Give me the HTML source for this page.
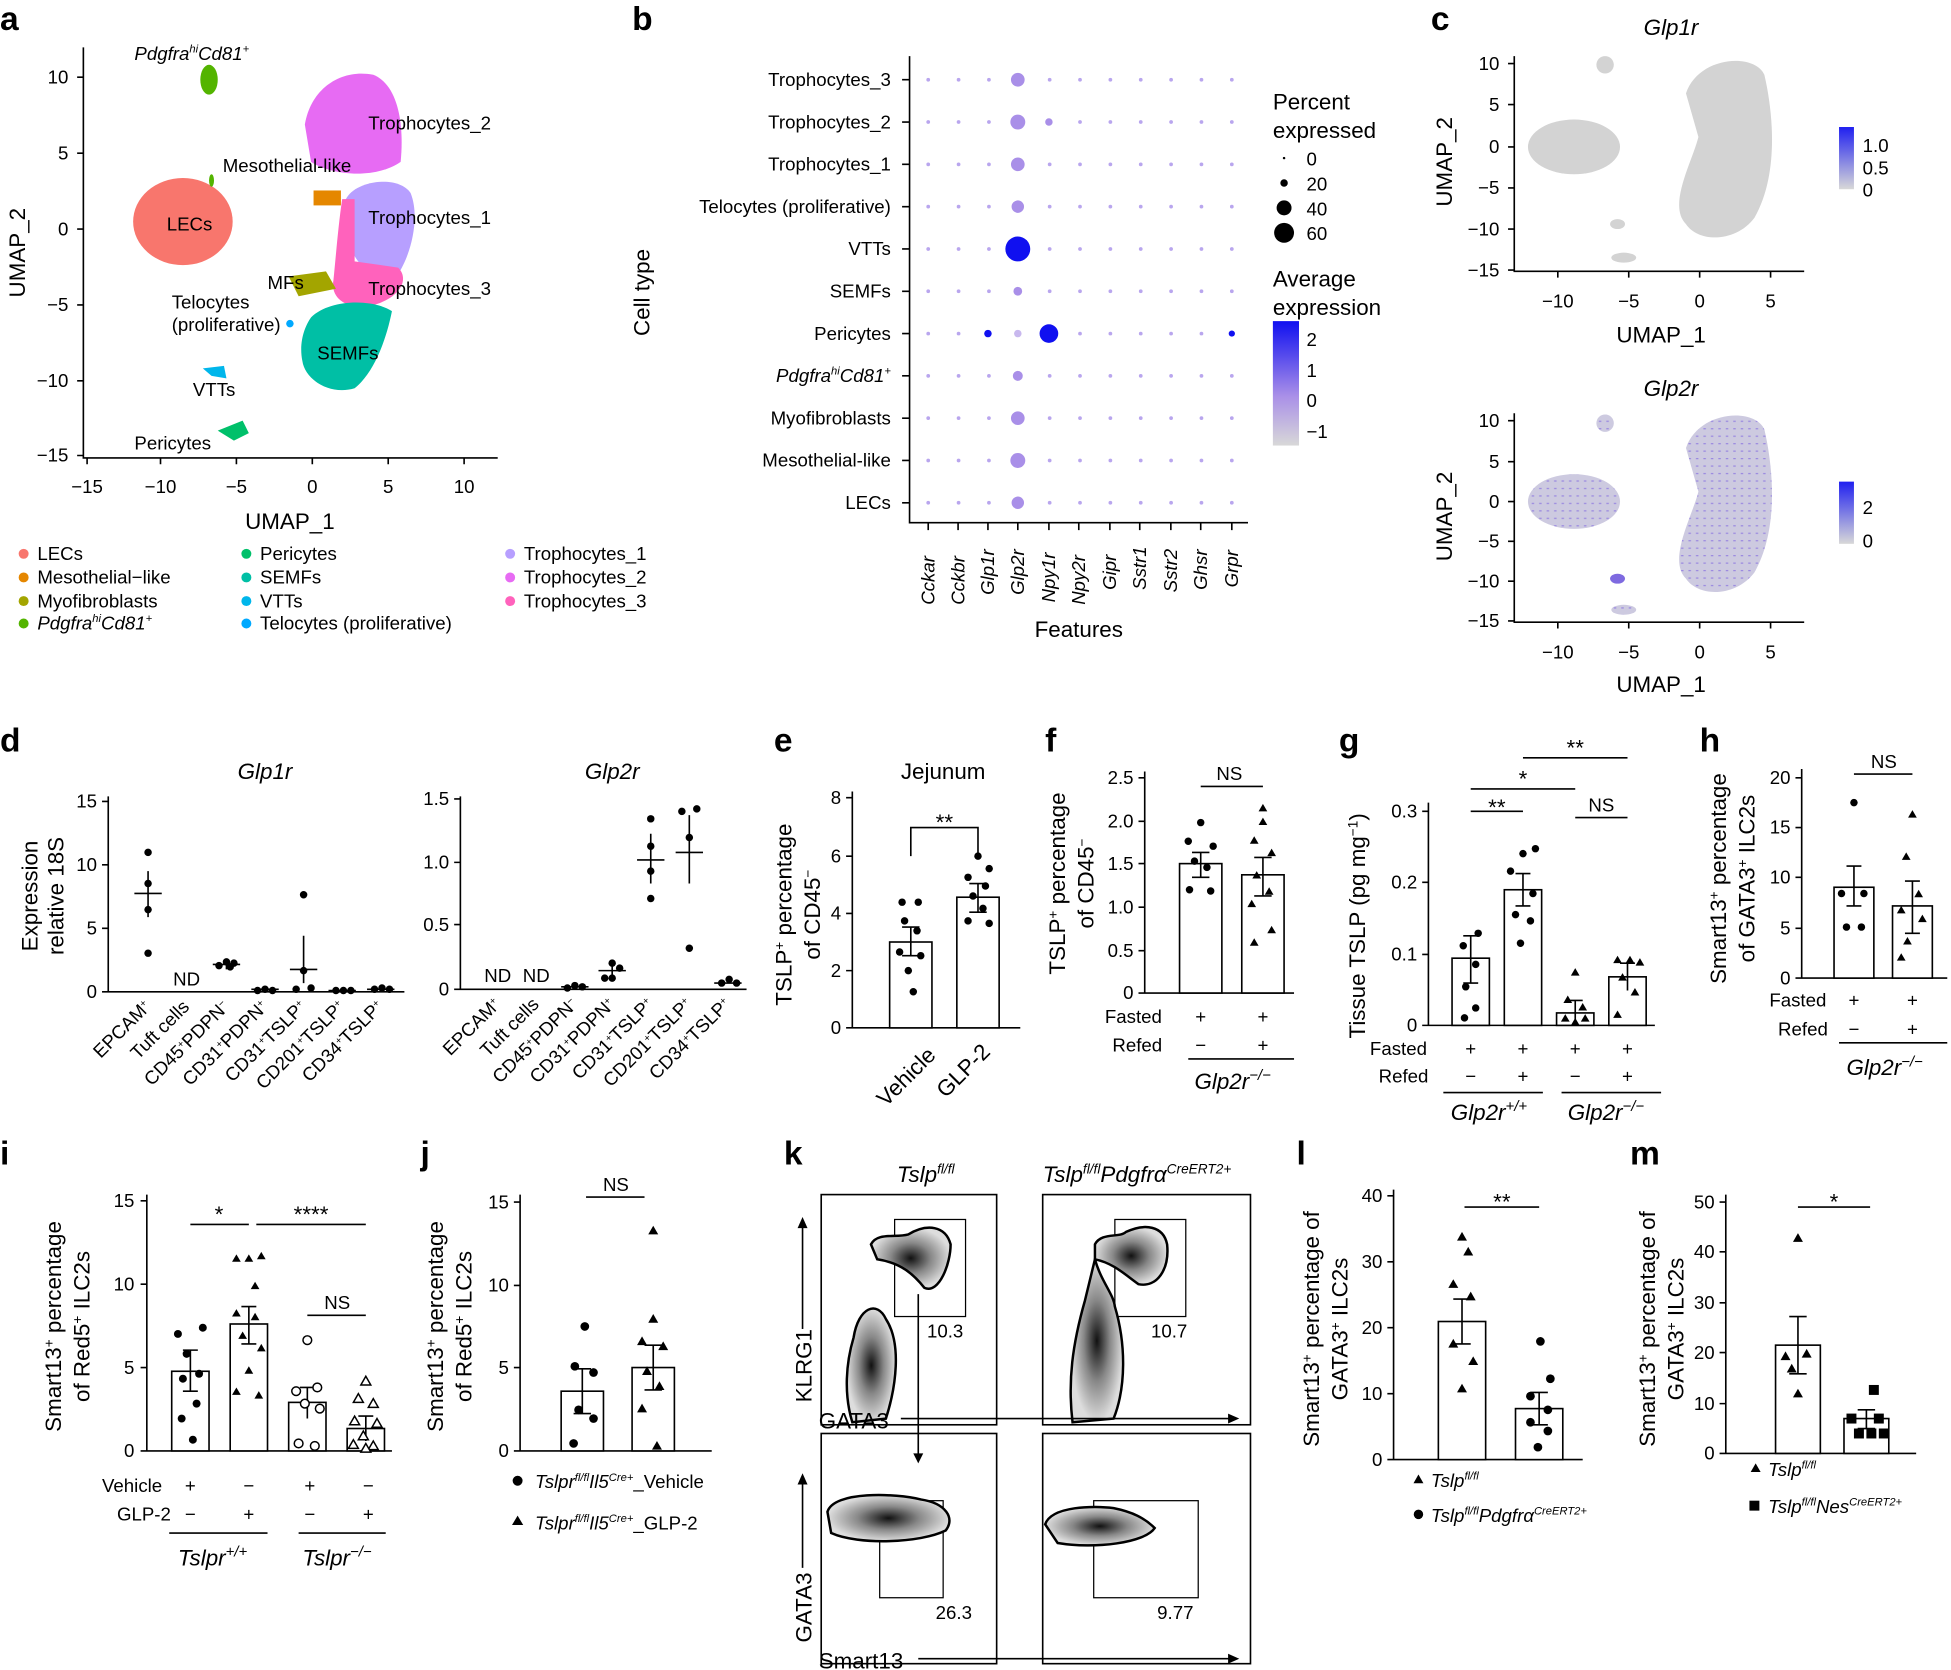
<!DOCTYPE html>
<html><head><meta charset="utf-8"><style>
html,body{margin:0;padding:0;background:#fff;}
svg{display:block;}
text{font-family:"Liberation Sans",sans-serif;fill:#000;}
.t{font-size:15px;}
.ax{font-size:18px;}
.L{font-size:27px;font-weight:bold;}
.i{font-style:italic;}
.k{stroke:#000;stroke-width:1.3;fill:none;}
.bar{stroke:#000;stroke-width:1.3;fill:#fff;}
</style></head><body>
<svg width="1951" height="1670" viewBox="0 0 1568 1342" xmlns="http://www.w3.org/2000/svg">
<text class="L" x="0" y="24">a</text>
<text class="L" x="508" y="24">b</text>
<text class="L" x="1150" y="24">c</text>
<text class="L" x="0" y="604">d</text>
<text class="L" x="622" y="604">e</text>
<text class="L" x="840" y="604">f</text>
<text class="L" x="1076" y="604">g</text>
<text class="L" x="1366" y="604">h</text>
<text class="L" x="0" y="936">i</text>
<text class="L" x="338" y="936">j</text>
<text class="L" x="630" y="936">k</text>
<text class="L" x="1042" y="936">l</text>
<text class="L" x="1310" y="936">m</text>

<!-- ===== Panel a ===== -->
<g>
<path class="k" d="M67 38V368H400"/>
<g class="k"><path d="M62 62H67M62 123H67M62 184H67M62 245H67M62 306H67M62 366H67M70 368V373M129 368V373M190 368V373M251 368V373M312 368V373M373 368V373"/></g>
<g class="t" text-anchor="end"><text x="55" y="67">10</text><text x="55" y="128">5</text><text x="55" y="189">0</text><text x="55" y="250">−5</text><text x="55" y="311">−10</text><text x="55" y="371">−15</text></g>
<g class="t" text-anchor="middle"><text x="70" y="396">−15</text><text x="129" y="396">−10</text><text x="190" y="396">−5</text><text x="251" y="396">0</text><text x="312" y="396">5</text><text x="373" y="396">10</text></g>
<text class="ax" x="233" y="425" text-anchor="middle">UMAP_1</text>
<text class="ax" transform="translate(20,203) rotate(-90)" text-anchor="middle">UMAP_2</text>
<ellipse cx="147" cy="178" rx="40" ry="35" fill="#F8766D"/>
<path d="M245 100 C250 70,275 55,300 60 C320 68,325 100,322 130 C300 145,265 140,250 130 Z" fill="#E76BF3"/>
<rect x="252" y="153" width="22" height="12" fill="#E58700"/>
<path d="M278 160 C285 145,320 140,330 155 C338 175,330 205,320 220 C300 230,285 210,280 195 Z" fill="#B79FFF"/>
<path d="M275 160 L285 160 L285 210 L320 215 C330 225,320 240,300 245 C280 250,265 240,268 225 C270 205,272 180,275 160 Z" fill="#FF62BC"/>
<path d="M250 255 C265 240,300 240,315 250 C310 275,300 300,285 312 C265 318,245 305,243 290 C240 275,245 262,250 255 Z" fill="#00BFA5"/>
<path d="M232 222 L262 218 L270 232 L240 238 Z" fill="#A3A500"/>
<ellipse cx="168" cy="64" rx="7" ry="12" fill="#53B400"/>
<ellipse cx="170" cy="145" rx="2" ry="5" fill="#53B400"/>
<path d="M163 296 L180 294 L182 304 L170 302 Z" fill="#00B6EB"/>
<path d="M175 346 L195 338 L200 348 L188 354 Z" fill="#00C06A"/>
<circle cx="233" cy="260" r="3" fill="#00A9FF"/>
<g class="t">
<text x="108" y="48" class="i">Pdgfra<tspan dy="-6" font-size="9">hi</tspan><tspan dy="6">Cd81</tspan><tspan dy="-6" font-size="9">+</tspan></text>
<text x="296" y="104">Trophocytes_2</text>
<text x="179" y="138">Mesothelial-like</text>
<text x="134" y="185">LECs</text>
<text x="296" y="180">Trophocytes_1</text>
<text x="215" y="232">MFs</text>
<text x="296" y="237">Trophocytes_3</text>
<text x="138" y="248">Telocytes</text>
<text x="138" y="266">(proliferative)</text>
<text x="255" y="289">SEMFs</text>
<text x="155" y="318">VTTs</text>
<text x="108" y="361">Pericytes</text>
</g>
<g class="t">
<circle cx="19" cy="445" r="4" fill="#F8766D"/><text x="30" y="450">LECs</text>
<circle cx="19" cy="464" r="4" fill="#E58700"/><text x="30" y="469">Mesothelial−like</text>
<circle cx="19" cy="483" r="4" fill="#A3A500"/><text x="30" y="488">Myofibroblasts</text>
<circle cx="19" cy="501" r="4" fill="#53B400"/><text x="30" y="506" class="i">Pdgfra<tspan dy="-6" font-size="9">hi</tspan><tspan dy="6">Cd81</tspan><tspan dy="-6" font-size="9">+</tspan></text>
<circle cx="198" cy="445" r="4" fill="#00C06A"/><text x="209" y="450">Pericytes</text>
<circle cx="198" cy="464" r="4" fill="#00BFA5"/><text x="209" y="469">SEMFs</text>
<circle cx="198" cy="483" r="4" fill="#00B6EB"/><text x="209" y="488">VTTs</text>
<circle cx="198" cy="501" r="4" fill="#00A9FF"/><text x="209" y="506">Telocytes (proliferative)</text>
<circle cx="410" cy="445" r="4" fill="#B79FFF"/><text x="421" y="450">Trophocytes_1</text>
<circle cx="410" cy="464" r="4" fill="#E76BF3"/><text x="421" y="469">Trophocytes_2</text>
<circle cx="410" cy="483" r="4" fill="#FF62BC"/><text x="421" y="488">Trophocytes_3</text>
</g>
</g>

<!-- ===== Panel b ===== -->
<g>
<path class="k" d="M731 45V420H1003"/>
<g class="t" text-anchor="end">
<text x="716" y="69">Trophocytes_3</text><text x="716" y="103">Trophocytes_2</text><text x="716" y="137">Trophocytes_1</text>
<text x="716" y="171">Telocytes (proliferative)</text><text x="716" y="205">VTTs</text><text x="716" y="239">SEMFs</text>
<text x="716" y="273">Pericytes</text>
<text x="716" y="307" class="i">Pdgfra<tspan dy="-6" font-size="9">hi</tspan><tspan dy="6">Cd81</tspan><tspan dy="-6" font-size="9">+</tspan></text>
<text x="716" y="341">Myofibroblasts</text><text x="716" y="375">Mesothelial-like</text><text x="716" y="409">LECs</text>
</g>
<path class="k" d="M725 64H731M725 98H731M725 132H731M725 166H731M725 200H731M725 234H731M725 268H731M725 302H731M725 336H731M725 370H731M725 404H731M746 420V426M770 420V426M794 420V426M818 420V426M843 420V426M867 420V426M892 420V426M916 420V426M941 420V426M965 420V426M990 420V426"/>
<g stroke="#B9A6EE" stroke-width="3" stroke-linecap="round" stroke-dasharray="0 24.4">
<path d="M746 64H1000M746 98H1000M746 132H1000M746 166H1000M746 200H1000M746 234H1000M746 268H1000M746 302H1000M746 336H1000M746 370H1000M746 404H1000"/>
</g>
<g fill="#A98FE8">
<circle cx="818" cy="64" r="5.5"/><circle cx="818" cy="98" r="6"/><circle cx="818" cy="132" r="5.5"/><circle cx="818" cy="166" r="5"/>
<circle cx="818" cy="234" r="3.5"/><circle cx="818" cy="268" r="3" fill="#C8B8EE"/><circle cx="818" cy="302" r="4"/><circle cx="818" cy="336" r="5.5"/><circle cx="818" cy="370" r="6"/><circle cx="818" cy="404" r="5"/>
<circle cx="843" cy="98" r="3"/>
</g>
<circle cx="818" cy="200" r="10" fill="#1010F0"/>
<circle cx="843" cy="268" r="7.5" fill="#1010F0"/>
<circle cx="794" cy="268" r="3" fill="#1010F0"/>
<circle cx="990" cy="268" r="2.5" fill="#1010F0"/>
<g class="t i" font-size="15">
<text transform="translate(751,486) rotate(-90)">Cckar</text><text transform="translate(775,486) rotate(-90)">Cckbr</text>
<text transform="translate(799,478) rotate(-90)">Glp1r</text><text transform="translate(823,478) rotate(-90)">Glp2r</text>
<text transform="translate(848,484) rotate(-90)">Npy1r</text><text transform="translate(872,486) rotate(-90)">Npy2r</text>
<text transform="translate(897,474) rotate(-90)">Gipr</text><text transform="translate(921,474) rotate(-90)">Sstr1</text>
<text transform="translate(946,476) rotate(-90)">Sstr2</text><text transform="translate(970,474) rotate(-90)">Ghsr</text>
<text transform="translate(995,472) rotate(-90)">Grpr</text>
</g>
<text class="ax" x="867" y="512" text-anchor="middle">Features</text>
<text class="ax" transform="translate(522,235) rotate(-90)" text-anchor="middle">Cell type</text>
<g class="ax"><text x="1023" y="88">Percent</text><text x="1023" y="111">expressed</text>
<text x="1023" y="230">Average</text><text x="1023" y="253">expression</text></g>
<g class="t"><circle cx="1032" cy="127" r="1"/><text x="1050" y="133">0</text>
<circle cx="1032" cy="147" r="3"/><text x="1050" y="153">20</text>
<circle cx="1032" cy="167" r="6"/><text x="1050" y="173">40</text>
<circle cx="1032" cy="187" r="8"/><text x="1050" y="193">60</text>
<text x="1050" y="278">2</text><text x="1050" y="303">1</text><text x="1050" y="327">0</text><text x="1050" y="352">−1</text></g>
<defs><linearGradient id="gb" x1="0" y1="0" x2="0" y2="1"><stop offset="0" stop-color="#1010F0"/><stop offset="0.6" stop-color="#A98FE8"/><stop offset="1" stop-color="#D8D8D8"/></linearGradient>
<linearGradient id="gc" x1="0" y1="0" x2="0" y2="1"><stop offset="0" stop-color="#2020F0"/><stop offset="1" stop-color="#D8D8D8"/></linearGradient></defs>
<rect x="1023" y="258" width="21" height="100" fill="url(#gb)"/>
</g>

<!-- ===== Panel c ===== -->
<g>
<text class="ax i" x="1343" y="28" text-anchor="middle">Glp1r</text>
<path class="k" d="M1217 45V218H1450"/>
<path class="k" d="M1212 51H1217M1212 84H1217M1212 118H1217M1212 151H1217M1212 184H1217M1212 217H1217M1252 218V223M1309 218V223M1366 218V223M1423 218V223"/>
<g class="t" text-anchor="end"><text x="1205" y="56">10</text><text x="1205" y="89">5</text><text x="1205" y="123">0</text><text x="1205" y="156">−5</text><text x="1205" y="189">−10</text><text x="1205" y="222">−15</text></g>
<g class="t" text-anchor="middle"><text x="1252" y="247">−10</text><text x="1309" y="247">−5</text><text x="1366" y="247">0</text><text x="1423" y="247">5</text></g>
<text class="ax" x="1335" y="275" text-anchor="middle">UMAP_1</text>
<text class="ax" transform="translate(1167,130) rotate(-90)" text-anchor="middle">UMAP_2</text>
<g fill="#D3D3D3">
<ellipse cx="1265" cy="118" rx="37" ry="22"/><ellipse cx="1290" cy="52" rx="7" ry="7"/>
<path d="M1355 75 C1365 45,1410 42,1418 60 C1425 90,1430 140,1410 175 C1395 195,1365 195,1355 180 C1340 165,1360 130,1365 110 Z"/>
<ellipse cx="1300" cy="180" rx="6" ry="4"/><ellipse cx="1305" cy="207" rx="10" ry="4"/>
</g>
<rect x="1478" y="102" width="12" height="50" fill="url(#gc)"/>
<g class="t"><text x="1497" y="122">1.0</text><text x="1497" y="140">0.5</text><text x="1497" y="158">0</text></g>

<text class="ax i" x="1343" y="318" text-anchor="middle">Glp2r</text>
<path class="k" d="M1217 332V500H1450"/>
<path class="k" d="M1212 338H1217M1212 371H1217M1212 403H1217M1212 435H1217M1212 467H1217M1212 499H1217M1252 500V505M1309 500V505M1366 500V505M1423 500V505"/>
<g class="t" text-anchor="end"><text x="1205" y="343">10</text><text x="1205" y="376">5</text><text x="1205" y="408">0</text><text x="1205" y="440">−5</text><text x="1205" y="472">−10</text><text x="1205" y="504">−15</text></g>
<g class="t" text-anchor="middle"><text x="1252" y="529">−10</text><text x="1309" y="529">−5</text><text x="1366" y="529">0</text><text x="1423" y="529">5</text></g>
<text class="ax" x="1335" y="556" text-anchor="middle">UMAP_1</text>
<text class="ax" transform="translate(1167,415) rotate(-90)" text-anchor="middle">UMAP_2</text>
<defs><pattern id="sp" width="6" height="6" patternUnits="userSpaceOnUse"><rect width="6" height="6" fill="#CDCAE0"/><rect x="1" y="2" width="2" height="1" fill="#9A88E0"/></pattern></defs>
<g fill="url(#sp)">
<ellipse cx="1265" cy="403" rx="37" ry="22"/><ellipse cx="1290" cy="340" rx="7" ry="7"/>
<path d="M1355 360 C1365 330,1410 327,1418 345 C1425 375,1430 425,1410 460 C1395 480,1365 480,1355 465 C1340 450,1360 415,1365 395 Z"/>
<ellipse cx="1300" cy="465" rx="6" ry="4" fill="#7E6AE0"/><ellipse cx="1305" cy="490" rx="10" ry="4"/>
</g>
<rect x="1478" y="387" width="12" height="50" fill="url(#gc)"/>
<g class="t"><text x="1497" y="413">2</text><text x="1497" y="440">0</text></g>
</g>

<!-- ===== Panel d ===== -->
<g>
<text class="ax i" x="213" y="626" text-anchor="middle">Glp1r</text>
<path class="k" d="M87 640V797H325M82 644H87M82 695H87M82 746H87M82 797H87"/>
<g class="t" text-anchor="end"><text x="78" y="649">15</text><text x="78" y="700">10</text><text x="78" y="751">5</text><text x="78" y="802">0</text></g>
<text class="ax" transform="translate(30,720) rotate(-90)" text-anchor="middle">Expression</text>
<text class="ax" transform="translate(51,720) rotate(-90)" text-anchor="middle">relative 18S</text>
<path class="k" d="M108 718H130M119 700V737M171 775H193M182 772V779M202 795H224M233 779H255M244 752V790M264 796H286M295 795H317"/>
<g fill="#000"><circle cx="119" cy="685" r="3"/><circle cx="119" cy="710" r="3"/><circle cx="119" cy="731" r="3"/><circle cx="119" cy="766" r="3"/>
<circle cx="176" cy="776" r="3"/><circle cx="182" cy="773" r="3"/><circle cx="188" cy="774" r="3"/><circle cx="185" cy="777" r="3"/>
<circle cx="207" cy="796" r="3"/><circle cx="213" cy="795" r="3"/><circle cx="219" cy="796" r="3"/>
<circle cx="244" cy="719" r="3"/><circle cx="244" cy="780" r="3"/><circle cx="238" cy="795" r="3"/><circle cx="250" cy="794" r="3"/>
<circle cx="270" cy="796" r="3"/><circle cx="276" cy="796" r="3"/><circle cx="282" cy="796" r="3"/>
<circle cx="301" cy="795" r="3"/><circle cx="307" cy="794" r="3"/><circle cx="313" cy="795" r="3"/></g>
<text class="t" x="150" y="792" text-anchor="middle">ND</text>

<text class="ax i" x="492" y="626" text-anchor="middle">Glp2r</text>
<path class="k" d="M370 640V795H600M365 642H370M365 693H370M365 743H370M365 795H370"/>
<g class="t" text-anchor="end"><text x="361" y="647">1.5</text><text x="361" y="698">1.0</text><text x="361" y="748">0.5</text><text x="361" y="800">0</text></g>
<text class="t" x="400" y="789" text-anchor="middle">ND</text><text class="t" x="431" y="789" text-anchor="middle">ND</text>
<path class="k" d="M451 793H473M481 780H503M492 773V787M512 691H534M523 670V710M543 685H565M554 655V710M574 790H596"/>
<g fill="#000"><circle cx="456" cy="794" r="3"/><circle cx="462" cy="792" r="3"/><circle cx="468" cy="793" r="3"/>
<circle cx="486" cy="786" r="3"/><circle cx="492" cy="774" r="3"/><circle cx="498" cy="778" r="3"/><circle cx="492" cy="786" r="3"/>
<circle cx="523" cy="658" r="3"/><circle cx="523" cy="680" r="3"/><circle cx="523" cy="722" r="3"/><circle cx="523" cy="700" r="3"/>
<circle cx="548" cy="652" r="3"/><circle cx="560" cy="650" r="3"/><circle cx="554" cy="673" r="3"/><circle cx="554" cy="762" r="3"/>
<circle cx="580" cy="790" r="3"/><circle cx="586" cy="787" r="3"/><circle cx="592" cy="790" r="3"/></g>
<g class="t" text-anchor="end" font-size="14">
<text transform="translate(122,810) rotate(-45)">EPCAM<tspan dy="-5" font-size="8">+</tspan></text>
<text transform="translate(153,810) rotate(-45)">Tuft cells</text>
<text transform="translate(185,810) rotate(-45)">CD45<tspan dy="-5" font-size="8">+</tspan><tspan dy="5">PDPN</tspan><tspan dy="-5" font-size="8">−</tspan></text>
<text transform="translate(216,810) rotate(-45)">CD31<tspan dy="-5" font-size="8">+</tspan><tspan dy="5">PDPN</tspan><tspan dy="-5" font-size="8">+</tspan></text>
<text transform="translate(247,810) rotate(-45)">CD31<tspan dy="-5" font-size="8">+</tspan><tspan dy="5">TSLP</tspan><tspan dy="-5" font-size="8">+</tspan></text>
<text transform="translate(278,810) rotate(-45)">CD201<tspan dy="-5" font-size="8">+</tspan><tspan dy="5">TSLP</tspan><tspan dy="-5" font-size="8">+</tspan></text>
<text transform="translate(309,810) rotate(-45)">CD34<tspan dy="-5" font-size="8">+</tspan><tspan dy="5">TSLP</tspan><tspan dy="-5" font-size="8">+</tspan></text>
<text transform="translate(403,808) rotate(-45)">EPCAM<tspan dy="-5" font-size="8">+</tspan></text>
<text transform="translate(434,808) rotate(-45)">Tuft cells</text>
<text transform="translate(465,808) rotate(-45)">CD45<tspan dy="-5" font-size="8">+</tspan><tspan dy="5">PDPN</tspan><tspan dy="-5" font-size="8">−</tspan></text>
<text transform="translate(495,808) rotate(-45)">CD31<tspan dy="-5" font-size="8">+</tspan><tspan dy="5">PDPN</tspan><tspan dy="-5" font-size="8">+</tspan></text>
<text transform="translate(526,808) rotate(-45)">CD31<tspan dy="-5" font-size="8">+</tspan><tspan dy="5">TSLP</tspan><tspan dy="-5" font-size="8">+</tspan></text>
<text transform="translate(557,808) rotate(-45)">CD201<tspan dy="-5" font-size="8">+</tspan><tspan dy="5">TSLP</tspan><tspan dy="-5" font-size="8">+</tspan></text>
<text transform="translate(588,808) rotate(-45)">CD34<tspan dy="-5" font-size="8">+</tspan><tspan dy="5">TSLP</tspan><tspan dy="-5" font-size="8">+</tspan></text>
</g>
</g>

<!-- ===== Panel e ===== -->
<g>
<text class="ax" x="758" y="626" text-anchor="middle">Jejunum</text>
<path class="k" d="M685 636V826H820M680 641H685M680 688H685M680 734H685M680 780H685M680 826H685"/>
<g class="t" text-anchor="end"><text x="676" y="646">8</text><text x="676" y="693">6</text><text x="676" y="739">4</text><text x="676" y="785">2</text><text x="676" y="831">0</text></g>
<text class="ax" transform="translate(636,735) rotate(-90)" text-anchor="middle">TSLP<tspan dy="-6" font-size="11">+</tspan><tspan dy="6"> percentage</tspan></text>
<text class="ax" transform="translate(659,735) rotate(-90)" text-anchor="middle">of CD45<tspan dy="-6" font-size="11">−</tspan></text>
<rect class="bar" x="715" y="757" width="34" height="69"/><rect class="bar" x="769" y="721" width="34" height="105"/>
<path class="k" d="M732 745V768M725 745H739M725 768H739M786 710V733M779 710H793M779 733H793M732 688V665H786V688"/>
<text class="ax" x="759" y="667" text-anchor="middle">**</text>
<g fill="#000"><circle cx="725" cy="725" r="3"/><circle cx="738" cy="725" r="3"/><circle cx="727" cy="740" r="3"/><circle cx="737" cy="748" r="3"/><circle cx="723" cy="765" r="3"/><circle cx="740" cy="768" r="3"/><circle cx="730" cy="780" r="3"/><circle cx="734" cy="797" r="3"/>
<circle cx="786" cy="688" r="3"/><circle cx="795" cy="698" r="3"/><circle cx="778" cy="705" r="3"/><circle cx="792" cy="712" r="3"/><circle cx="782" cy="720" r="3"/><circle cx="790" cy="730" r="3"/><circle cx="778" cy="740" r="3"/><circle cx="795" cy="742" r="3"/></g>
<text class="ax" transform="translate(712,890) rotate(-45)">Vehicle</text>
<text class="ax" transform="translate(760,883) rotate(-45)">GLP-2</text>
</g>

<!-- ===== Panel f ===== -->
<g>
<path class="k" d="M920 620V798H1040M915 625H920M915 660H920M915 694H920M915 729H920M915 764H920M915 798H920"/>
<g class="t" text-anchor="end"><text x="911" y="630">2.5</text><text x="911" y="665">2.0</text><text x="911" y="699">1.5</text><text x="911" y="734">1.0</text><text x="911" y="769">0.5</text><text x="911" y="803">0</text></g>
<text class="ax" transform="translate(856,710) rotate(-90)" text-anchor="middle">TSLP<tspan dy="-6" font-size="11">+</tspan><tspan dy="6"> percentage</tspan></text>
<text class="ax" transform="translate(879,710) rotate(-90)" text-anchor="middle">of CD45<tspan dy="-6" font-size="11">−</tspan></text>
<rect class="bar" x="948" y="694" width="34" height="104"/><rect class="bar" x="998" y="703" width="34" height="95"/>
<path class="k" d="M965 685V705M958 685H972M958 705H972M1015 689V720M1008 689H1022M1008 720H1022M965 632H1015"/>
<text class="t" x="988" y="627" text-anchor="middle">NS</text>
<g fill="#000"><circle cx="965" cy="661" r="3"/><circle cx="955" cy="676" r="3"/><circle cx="975" cy="680" r="3"/><circle cx="960" cy="692" r="3"/><circle cx="970" cy="697" r="3"/><circle cx="956" cy="715" r="3"/><circle cx="973" cy="716" r="3"/></g>
<g fill="#000"><path d="M1015 646l3.5 6h-7z"/><path d="M1015 657l3.5 6h-7z"/><path d="M1008 672l3.5 6h-7z"/><path d="M1022 682l3.5 6h-7z"/><path d="M1010 700l3.5 6h-7z"/><path d="M1020 713l3.5 6h-7z"/><path d="M1006 723l3.5 6h-7z"/><path d="M1022 744l3.5 6h-7z"/><path d="M1008 754l3.5 6h-7z"/></g>
<g class="t"><text x="888" y="822">Fasted</text><text x="894" y="845">Refed</text>
<text x="965" y="822" text-anchor="middle">+</text><text x="1015" y="822" text-anchor="middle">+</text>
<text x="965" y="845" text-anchor="middle">−</text><text x="1015" y="845" text-anchor="middle">+</text></g>
<path class="k" d="M955 851H1040"/>
<text class="ax i" x="960" y="875">Glp2r<tspan dy="-7" font-size="12">−/−</tspan></text>
</g>

<!-- ===== Panel g ===== -->
<g>
<path class="k" d="M1148 645V824H1330M1143 652H1148M1143 709H1148M1143 767H1148M1143 824H1148"/>
<g class="t" text-anchor="end"><text x="1139" y="657">0.3</text><text x="1139" y="714">0.2</text><text x="1139" y="772">0.1</text><text x="1139" y="829">0</text></g>
<text class="ax" transform="translate(1097,744) rotate(-90)" text-anchor="middle">Tissue TSLP (pg mg<tspan dy="-6" font-size="11">−1</tspan><tspan dy="6">)</tspan></text>
<rect class="bar" x="1167" y="770" width="30" height="54"/><rect class="bar" x="1209" y="715" width="30" height="109"/><rect class="bar" x="1251" y="814" width="30" height="10"/><rect class="bar" x="1293" y="785" width="30" height="39"/>
<path class="k" d="M1182 752V790M1176 752H1188M1176 790H1188M1224 702V728M1218 702H1230M1218 728H1230M1266 804V822M1260 804H1272M1308 774V796M1302 774H1314M1182 652H1224M1182 634H1266M1224 609H1308M1266 657H1308"/>
<g class="t" text-anchor="middle"><text x="1203" y="655" font-size="18">**</text><text x="1224" y="632" font-size="18">*</text><text x="1266" y="607" font-size="18">**</text><text x="1287" y="652">NS</text></g>
<g fill="#000"><circle cx="1188" cy="750" r="3"/><circle cx="1176" cy="760" r="3"/><circle cx="1186" cy="775" r="3"/><circle cx="1178" cy="793" r="3"/><circle cx="1186" cy="810" r="3"/><circle cx="1177" cy="818" r="3"/>
<circle cx="1224" cy="686" r="3"/><circle cx="1234" cy="682" r="3"/><circle cx="1214" cy="700" r="3"/><circle cx="1232" cy="718" r="3"/><circle cx="1218" cy="735" r="3"/><circle cx="1230" cy="740" r="3"/><circle cx="1222" cy="758" r="3"/></g>
<g fill="#000"><path d="M1266 778l3.5 6h-7z"/><path d="M1260 800l3.5 6h-7z"/><path d="M1272 806l3.5 6h-7z"/><path d="M1258 815l3.5 6h-7z"/><path d="M1274 815l3.5 6h-7z"/><path d="M1266 818l3.5 6h-7z"/>
<path d="M1300 768l3.5 6h-7z"/><path d="M1310 768l3.5 6h-7z"/><path d="M1318 770l3.5 6h-7z"/><path d="M1304 782l3.5 6h-7z"/><path d="M1314 794l3.5 6h-7z"/><path d="M1300 812l3.5 6h-7z"/></g>
<g class="t"><text x="1101" y="848">Fasted</text><text x="1108" y="870">Refed</text>
<text x="1182" y="848" text-anchor="middle">+</text><text x="1224" y="848" text-anchor="middle">+</text><text x="1266" y="848" text-anchor="middle">+</text><text x="1308" y="848" text-anchor="middle">+</text>
<text x="1182" y="870" text-anchor="middle">−</text><text x="1224" y="870" text-anchor="middle">+</text><text x="1266" y="870" text-anchor="middle">−</text><text x="1308" y="870" text-anchor="middle">+</text></g>
<path class="k" d="M1160 878H1240M1255 878H1335"/>
<text class="ax i" x="1166" y="900">Glp2r<tspan dy="-7" font-size="12">+/+</tspan></text>
<text class="ax i" x="1260" y="900">Glp2r<tspan dy="-7" font-size="12">−/−</tspan></text>
</g>

<!-- ===== Panel h ===== -->
<g>
<path class="k" d="M1448 618V786H1565M1443 625H1448M1443 665H1448M1443 705H1448M1443 746H1448M1443 786H1448"/>
<g class="t" text-anchor="end"><text x="1439" y="630">20</text><text x="1439" y="670">15</text><text x="1439" y="710">10</text><text x="1439" y="751">5</text><text x="1439" y="791">0</text></g>
<text class="ax" transform="translate(1387,706) rotate(-90)" text-anchor="middle">Smart13<tspan dy="-6" font-size="11">+</tspan><tspan dy="6"> percentage</tspan></text>
<text class="ax" transform="translate(1410,706) rotate(-90)" text-anchor="middle">of GATA3<tspan dy="-6" font-size="11">+</tspan><tspan dy="6"> ILC2s</tspan></text>
<rect class="bar" x="1474" y="713" width="32" height="73"/><rect class="bar" x="1521" y="728" width="32" height="58"/>
<path class="k" d="M1490 696V728M1484 696H1496M1484 728H1496M1537 708V750M1531 708H1543M1531 750H1543M1490 622H1537"/>
<text class="t" x="1514" y="617" text-anchor="middle">NS</text>
<g fill="#000"><circle cx="1490" cy="645" r="3"/><circle cx="1480" cy="718" r="3"/><circle cx="1498" cy="718" r="3"/><circle cx="1484" cy="745" r="3"/><circle cx="1496" cy="745" r="3"/></g>
<g fill="#000"><path d="M1537 651l3.5 6h-7z"/><path d="M1532 685l3.5 6h-7z"/><path d="M1542 715l3.5 6h-7z"/><path d="M1528 728l3.5 6h-7z"/><path d="M1545 735l3.5 6h-7z"/><path d="M1533 753l3.5 6h-7z"/><path d="M1528 766l3.5 6h-7z"/></g>
<g class="t"><text x="1422" y="809">Fasted</text><text x="1429" y="832">Refed</text>
<text x="1490" y="809" text-anchor="middle">+</text><text x="1537" y="809" text-anchor="middle">+</text>
<text x="1490" y="832" text-anchor="middle">−</text><text x="1537" y="832" text-anchor="middle">+</text></g>
<path class="k" d="M1478 838H1565"/>
<text class="ax i" x="1484" y="864">Glp2r<tspan dy="-7" font-size="12">−/−</tspan></text>
</g>

<!-- ===== Panel i ===== -->
<g>
<path class="k" d="M118 960V1166H315M113 965H118M113 1032H118M113 1099H118M113 1166H118"/>
<g class="t" text-anchor="end"><text x="108" y="970">15</text><text x="108" y="1037">10</text><text x="108" y="1104">5</text><text x="108" y="1171">0</text></g>
<text class="ax" transform="translate(49,1066) rotate(-90)" text-anchor="middle">Smart13<tspan dy="-6" font-size="11">+</tspan><tspan dy="6"> percentage</tspan></text>
<text class="ax" transform="translate(72,1066) rotate(-90)" text-anchor="middle">of Red5<tspan dy="-6" font-size="11">+</tspan><tspan dy="6"> ILC2s</tspan></text>
<rect class="bar" x="138" y="1102" width="30" height="64"/><rect class="bar" x="185" y="1064" width="30" height="102"/><rect class="bar" x="232" y="1127" width="30" height="39"/><rect class="bar" x="279" y="1148" width="30" height="18"/>
<path class="k" d="M153 1085V1118M147 1085H159M147 1118H159M200 1050V1080M194 1050H206M194 1080H206M247 1115V1140M241 1115H253M294 1138V1158M288 1138H300M153 984H200M206 984H294M247 1057H294"/>
<g class="t" text-anchor="middle"><text x="176" y="982" font-size="18">*</text><text x="250" y="982" font-size="18">****</text><text x="271" y="1052">NS</text></g>
<g fill="#000"><circle cx="143" cy="1072" r="3.2"/><circle cx="163" cy="1067" r="3.2"/><circle cx="150" cy="1088" r="3.2"/><circle cx="160" cy="1104" r="3.2"/><circle cx="147" cy="1108" r="3.2"/><circle cx="158" cy="1128" r="3.2"/><circle cx="146" cy="1140" r="3.2"/><circle cx="155" cy="1157" r="3.2"/></g>
<g fill="#000"><path d="M190 1008l3.5 6h-7z"/><path d="M200 1008l3.5 6h-7z"/><path d="M210 1006l3.5 6h-7z"/><path d="M205 1030l3.5 6h-7z"/><path d="M190 1052l3.5 6h-7z"/><path d="M205 1055l3.5 6h-7z"/><path d="M195 1070l3.5 6h-7z"/><path d="M210 1080l3.5 6h-7z"/><path d="M200 1098l3.5 6h-7z"/><path d="M190 1115l3.5 6h-7z"/><path d="M208 1118l3.5 6h-7z"/></g>
<g fill="#fff" stroke="#000" stroke-width="1.2"><circle cx="247" cy="1077" r="3.5"/><circle cx="238" cy="1118" r="3.5"/><circle cx="255" cy="1115" r="3.5"/><circle cx="245" cy="1128" r="3.5"/><circle cx="257" cy="1132" r="3.5"/><circle cx="240" cy="1160" r="3.5"/><circle cx="253" cy="1162" r="3.5"/></g>
<g fill="#fff" stroke="#000" stroke-width="1.2"><path d="M294 1106l4 7h-8z"/><path d="M288 1120l4 7h-8z"/><path d="M300 1124l4 7h-8z"/><path d="M285 1138l4 7h-8z"/><path d="M303 1140l4 7h-8z"/><path d="M292 1150l4 7h-8z"/><path d="M284 1157l4 7h-8z"/><path d="M300 1158l4 7h-8z"/><path d="M294 1160l4 7h-8z"/></g>
<g class="t"><text x="82" y="1199">Vehicle</text><text x="94" y="1222">GLP-2</text>
<text x="153" y="1199" text-anchor="middle">+</text><text x="200" y="1199" text-anchor="middle">−</text><text x="249" y="1199" text-anchor="middle">+</text><text x="296" y="1199" text-anchor="middle">−</text>
<text x="153" y="1222" text-anchor="middle">−</text><text x="200" y="1222" text-anchor="middle">+</text><text x="249" y="1222" text-anchor="middle">−</text><text x="296" y="1222" text-anchor="middle">+</text></g>
<path class="k" d="M136 1232H215M240 1232H310"/>
<text class="ax i" x="143" y="1258">Tslpr<tspan dy="-7" font-size="12">+/+</tspan></text>
<text class="ax i" x="243" y="1258">Tslpr<tspan dy="-7" font-size="12">−/−</tspan></text>
</g>

<!-- ===== Panel j ===== -->
<g>
<path class="k" d="M418 960V1166H572M413 966H418M413 1033H418M413 1099H418M413 1166H418"/>
<g class="t" text-anchor="end"><text x="409" y="971">15</text><text x="409" y="1038">10</text><text x="409" y="1104">5</text><text x="409" y="1171">0</text></g>
<text class="ax" transform="translate(356,1066) rotate(-90)" text-anchor="middle">Smart13<tspan dy="-6" font-size="11">+</tspan><tspan dy="6"> percentage</tspan></text>
<text class="ax" transform="translate(379,1066) rotate(-90)" text-anchor="middle">of Red5<tspan dy="-6" font-size="11">+</tspan><tspan dy="6"> ILC2s</tspan></text>
<rect class="bar" x="451" y="1118" width="34" height="48"/><rect class="bar" x="508" y="1099" width="34" height="67"/>
<path class="k" d="M468 1100V1136M461 1100H475M461 1136H475M525 1081V1117M518 1081H532M518 1117H532M471 962H518"/>
<text class="t" x="495" y="957" text-anchor="middle">NS</text>
<g fill="#000"><circle cx="470" cy="1066" r="3.5"/><circle cx="462" cy="1098" r="3.5"/><circle cx="477" cy="1103" r="3.5"/><circle cx="465" cy="1133" r="3.5"/><circle cx="477" cy="1140" r="3.5"/><circle cx="461" cy="1160" r="3.5"/></g>
<g fill="#000"><path d="M525 985l4 7h-8z"/><path d="M525 1056l4 7h-8z"/><path d="M516 1074l4 7h-8z"/><path d="M533 1078l4 7h-8z"/><path d="M520 1098l4 7h-8z"/><path d="M530 1110l4 7h-8z"/><path d="M516 1128l4 7h-8z"/><path d="M528 1158l4 7h-8z"/></g>
<circle cx="416" cy="1190" r="4" fill="#000"/><path d="M416 1218l4.5 7.5h-9z" fill="#000"/>
<g class="t i"><text x="430" y="1196">Tslpr<tspan dy="-6" font-size="9">fl/fl</tspan><tspan dy="6">Il5</tspan><tspan dy="-6" font-size="9">Cre+</tspan><tspan dy="6" font-style="normal">_Vehicle</tspan></text>
<text x="430" y="1229">Tslpr<tspan dy="-6" font-size="9">fl/fl</tspan><tspan dy="6">Il5</tspan><tspan dy="-6" font-size="9">Cre+</tspan><tspan dy="6" font-style="normal">_GLP-2</tspan></text></g>
</g>

<!-- ===== Panel k ===== -->
<g>
<text class="ax i" x="744" y="950" text-anchor="middle">Tslp<tspan dy="-7" font-size="11">fl/fl</tspan></text>
<text class="ax i" x="838" y="950">Tslp<tspan dy="-7" font-size="11">fl/fl</tspan><tspan dy="7">Pdgfrα</tspan><tspan dy="-7" font-size="11">CreERT2+</tspan></text>
<g class="k"><rect x="660" y="960" width="141" height="185"/><rect x="838" y="960" width="167" height="185"/><rect x="660" y="1152" width="141" height="185"/><rect x="838" y="1152" width="167" height="185"/>
<rect x="719" y="980" width="57" height="78" stroke-width="1"/><rect x="896" y="980" width="57" height="78" stroke-width="1"/>
<rect x="707" y="1206" width="51" height="78" stroke-width="1"/><rect x="879" y="1206" width="84" height="78" stroke-width="1"/></g>
<defs><radialGradient id="fc"><stop offset="0" stop-color="#111"/><stop offset="0.5" stop-color="#888"/><stop offset="1" stop-color="#ddd"/></radialGradient></defs>
<g stroke="#000" stroke-width="2" fill="url(#fc)">
<path d="M700 1000 C705 990,720 995,730 992 C745 983,760 985,764 1000 C764 1015,755 1040,743 1035 C735 1025,725 1015,705 1012 Z"/>
<path d="M686 1075 C690 1050,705 1045,712 1060 C725 1080,720 1115,712 1140 L685 1143 C678 1120,680 1095,686 1075Z"/>
<path d="M880 1000 C885 990,900 995,905 990 C920 983,935 985,938 1000 C940 1020,930 1035,915 1032 C905 1025,895 1015,880 1012 Z"/>
<path d="M880 1012 C885 1030,895 1040,896 1050 C905 1080,905 1115,895 1140 L862 1143 C858 1110,862 1080,872 1045 Z"/>
<path d="M665 1215 C670 1198,720 1200,740 1205 C760 1208,768 1220,760 1230 C740 1240,690 1242,668 1232 Z"/>
<path d="M840 1225 C845 1210,880 1210,895 1212 C910 1215,920 1220,928 1228 C920 1240,880 1245,850 1240 Z"/>
</g>
<g class="t"><text x="745" y="1075">10.3</text><text x="925" y="1075">10.7</text><text x="752" y="1301">26.3</text><text x="930" y="1301">9.77</text></g>
<path class="k" d="M738 1040V1170"/><path d="M738 1176l-4-8h8z" fill="#000"/>
<path class="k" d="M645 1068V986"/><path d="M645 978l-4 9h8z" fill="#000"/>
<path class="k" d="M645 1260V1192"/><path d="M645 1184l-4 9h8z" fill="#000"/>
<path class="k" d="M724 1140H988"/><path d="M996 1140l-9-4v8z" fill="#000"/>
<path class="k" d="M738 1333H988"/><path d="M996 1333l-9-4v8z" fill="#000"/>
<text class="ax" transform="translate(652,1127) rotate(-90)">KLRG1</text>
<text class="ax" transform="translate(652,1320) rotate(-90)">GATA3</text>
<text class="ax" x="658" y="1148" font-size="17">GATA3</text>
<text class="ax" x="658" y="1341" font-size="17">Smart13</text>
</g>

<!-- ===== Panel l ===== -->
<g>
<path class="k" d="M1120 956V1173H1272M1115 961H1120M1115 1014H1120M1115 1067H1120M1115 1120H1120M1115 1173H1120"/>
<g class="t" text-anchor="end"><text x="1111" y="966">40</text><text x="1111" y="1019">30</text><text x="1111" y="1072">20</text><text x="1111" y="1125">10</text><text x="1111" y="1178">0</text></g>
<text class="ax" transform="translate(1060,1068) rotate(-90)" text-anchor="middle">Smart13<tspan dy="-6" font-size="11">+</tspan><tspan dy="6"> percentage of</tspan></text>
<text class="ax" transform="translate(1083,1068) rotate(-90)" text-anchor="middle">GATA3<tspan dy="-6" font-size="11">+</tspan><tspan dy="6"> ILC2s</tspan></text>
<rect class="bar" x="1156" y="1062" width="38" height="111"/><rect class="bar" x="1218" y="1132" width="38" height="41"/>
<path class="k" d="M1175 1044V1080M1168 1044H1182M1168 1080H1182M1237 1119V1145M1230 1119H1244M1230 1145H1244M1177 970H1237"/>
<text x="1207" y="972" text-anchor="middle" font-size="18">**</text>
<g fill="#000"><path d="M1175 990l4 7h-8z"/><path d="M1180 1002l4 7h-8z"/><path d="M1168 1028l4 7h-8z"/><path d="M1182 1038l4 7h-8z"/><path d="M1168 1076l4 7h-8z"/><path d="M1184 1090l4 7h-8z"/><path d="M1175 1112l4 7h-8z"/></g>
<g fill="#000"><circle cx="1238" cy="1078" r="3.5"/><circle cx="1246" cy="1108" r="3.5"/><circle cx="1230" cy="1122" r="3.5"/><circle cx="1244" cy="1133" r="3.5"/><circle cx="1230" cy="1143" r="3.5"/><circle cx="1244" cy="1150" r="3.5"/><circle cx="1236" cy="1163" r="3.5"/></g>
<path d="M1140 1185l4 7h-8z" fill="#000"/><circle cx="1140" cy="1217" r="3.8" fill="#000"/>
<g class="i" font-size="15"><text x="1150" y="1195">Tslp<tspan dy="-6" font-size="9">fl/fl</tspan></text>
<text x="1150" y="1223">Tslp<tspan dy="-6" font-size="9">fl/fl</tspan><tspan dy="6">Pdgfrα</tspan><tspan dy="-6" font-size="9">CreERT2+</tspan></text></g>
</g>

<!-- ===== Panel m ===== -->
<g>
<path class="k" d="M1387 960V1168H1540M1382 966H1387M1382 1006H1387M1382 1047H1387M1382 1087H1387M1382 1128H1387M1382 1168H1387"/>
<g class="t" text-anchor="end"><text x="1378" y="971">50</text><text x="1378" y="1011">40</text><text x="1378" y="1052">30</text><text x="1378" y="1092">20</text><text x="1378" y="1133">10</text><text x="1378" y="1173">0</text></g>
<text class="ax" transform="translate(1330,1068) rotate(-90)" text-anchor="middle">Smart13<tspan dy="-6" font-size="11">+</tspan><tspan dy="6"> percentage of</tspan></text>
<text class="ax" transform="translate(1353,1068) rotate(-90)" text-anchor="middle">GATA3<tspan dy="-6" font-size="11">+</tspan><tspan dy="6"> ILC2s</tspan></text>
<rect class="bar" x="1427" y="1081" width="36" height="87"/><rect class="bar" x="1482" y="1140" width="36" height="28"/>
<path class="k" d="M1445 1058V1104M1438 1058H1452M1438 1104H1452M1500 1133V1148M1493 1133H1507M1493 1148H1507M1445 970H1503"/>
<text x="1474" y="972" text-anchor="middle" font-size="18">*</text>
<g fill="#000"><path d="M1445 991l4 7h-8z"/><path d="M1435 1086l4 7h-8z"/><path d="M1452 1084l4 7h-8z"/><path d="M1440 1096l4 7h-8z"/><path d="M1445 1116l4 7h-8z"/></g>
<g fill="#000"><rect x="1502" y="1113" width="8" height="8"/><rect x="1484" y="1136" width="8" height="8"/><rect x="1506" y="1136" width="8" height="8"/><rect x="1490" y="1148" width="8" height="8"/><rect x="1500" y="1148" width="8" height="8"/><rect x="1510" y="1148" width="8" height="8"/></g>
<path d="M1411 1176l4 7h-8z" fill="#000"/><rect x="1406" y="1206" width="8" height="8" fill="#000"/>
<g class="i" font-size="15"><text x="1421" y="1186">Tslp<tspan dy="-6" font-size="9">fl/fl</tspan></text>
<text x="1421" y="1216">Tslp<tspan dy="-6" font-size="9">fl/fl</tspan><tspan dy="6">Nes</tspan><tspan dy="-6" font-size="9">CreERT2+</tspan></text></g>
</g>
</svg>
</body></html>
